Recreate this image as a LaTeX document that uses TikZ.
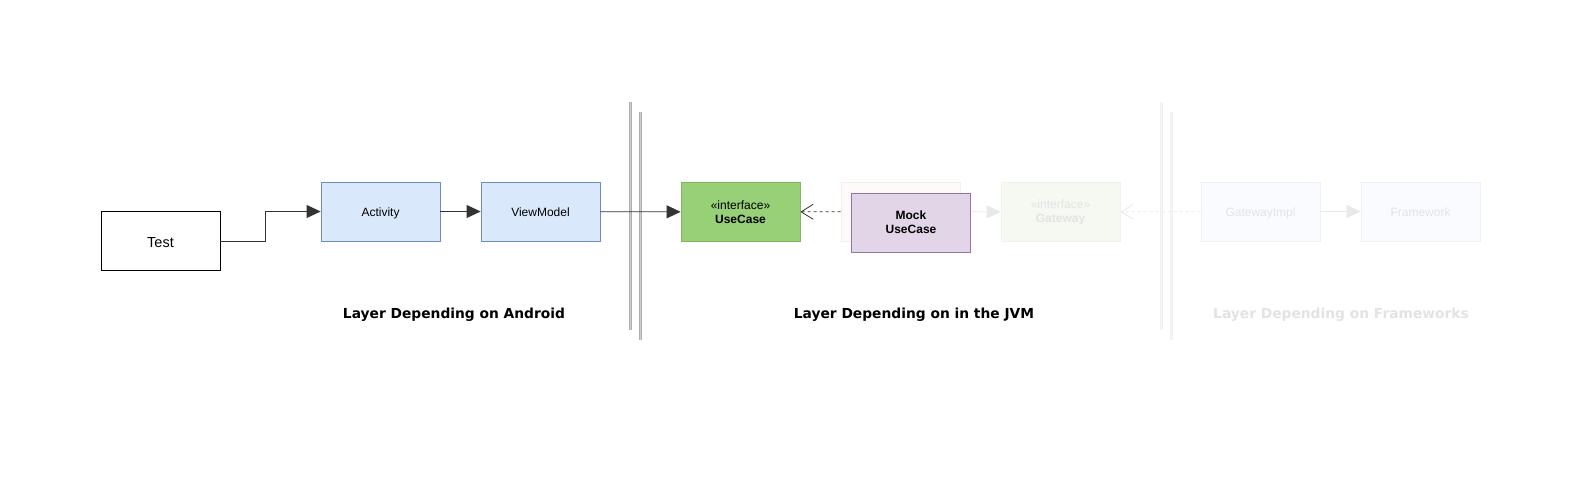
\documentclass[tikz,border=0pt]{standalone}
\usepackage{fontspec}
\setmainfont{Liberation Sans}
\newfontfamily\labelfont{DejaVu Sans}
\usetikzlibrary{arrows.meta}
\definecolor{bluefill}{HTML}{DAE8FC}
\definecolor{bluestroke}{HTML}{6C8EBF}
\definecolor{greenfill}{HTML}{97D077}
\definecolor{greenstroke}{HTML}{82B366}
\definecolor{mockfill}{HTML}{E1D5E7}
\definecolor{mockstroke}{HTML}{9673A6}
\definecolor{ghostfill}{HTML}{FEFAFA}
\definecolor{ghoststroke}{HTML}{F6ECEC}
\definecolor{fgreenfill}{HTML}{F5F9F2}
\definecolor{fgreenstroke}{HTML}{EEF4EA}
\definecolor{fbluefill}{HTML}{FAFBFE}
\definecolor{fbluestroke}{HTML}{EEF2F8}
\definecolor{fainttext}{HTML}{E3E3E3}
\definecolor{faintline}{HTML}{E8E8E8}
\definecolor{sepline}{HTML}{AFAFAF}
\definecolor{sepinner}{HTML}{CDCDCD}
\definecolor{fsepline}{HTML}{F0F0F0}
\definecolor{fsepinner}{HTML}{F7F7F7}
\definecolor{arrowc}{HTML}{333333}
\begin{document}
\begin{tikzpicture}[x=1pt,y=-1pt,
  box/.style={draw, line width=0.8pt, minimum width=119pt, minimum height=59pt, inner sep=0pt, align=center, font=\fontsize{12}{14}\selectfont},
  oneline/.style={text height=10.6pt, text depth=0pt},
  bluebox/.style={box, oneline, fill=bluefill, draw=bluestroke},
  greenbox/.style={box, fill=greenfill, draw=greenstroke},
  mockbox/.style={box, fill=mockfill, draw=mockstroke, font=\fontsize{12}{14}\selectfont\bfseries},
  ghostbox/.style={box, fill=ghostfill, draw=ghoststroke},
  fgreenbox/.style={box, fill=fgreenfill, draw=fgreenstroke, text=fainttext},
  fbluebox/.style={box, oneline, fill=fbluefill, draw=fbluestroke, text=fainttext},
  testbox/.style={box, font=\fontsize{14.5}{16}\selectfont, text height=12.4pt, text depth=0pt},
  layerlabel/.style={font=\labelfont\fontsize{13.8}{16}\selectfont\bfseries, inner sep=0pt},
  solidarrow/.style={line width=0.8pt, draw=arrowc, -{Triangle[length=14pt,width=13pt,fill=arrowc]}},
  openarrow/.style={line width=0.8pt, draw=arrowc, dash pattern=on 3pt off 3pt, -{Straight Barb[length=12pt,width=15pt]}},
  faintsolid/.style={line width=0.8pt, draw=faintline, -{Triangle[length=14pt,width=13pt,fill=faintline]}},
  faintopen/.style={line width=0.8pt, draw=faintline, dash pattern=on 3pt off 3pt, -{Straight Barb[length=12pt,width=15pt]}},
  sep/.style={line width=3pt, draw=sepline},
  sepin/.style={line width=1pt, draw=sepinner},
  fsep/.style={line width=3pt, draw=fsepline},
  fsepin/.style={line width=1pt, draw=fsepinner}]
\useasboundingbox (0,0) rectangle (1591,482);
\fill[white] (0,0) rectangle (1591,482);

% separators
\coordinate (s1a) at (630,101.5); \coordinate (s1b) at (630,330);
\coordinate (s2a) at (640,111.5); \coordinate (s2b) at (640,340);
\coordinate (s3a) at (1161,101.5); \coordinate (s3b) at (1161,330);
\coordinate (s4a) at (1171,111.5); \coordinate (s4b) at (1171,340);
\draw[sep] (s1a) -- (s1b); \draw[sepin] (s1a) -- (s1b);
\draw[sep] (s2a) -- (s2b); \draw[sepin] (s2a) -- (s2b);
\draw[fsep] (s3a) -- (s3b); \draw[fsepin] (s3a) -- (s3b);
\draw[fsep] (s4a) -- (s4b); \draw[fsepin] (s4a) -- (s4b);

% nodes
\node[testbox] (test) at (160.5,241) {Test};
\node[bluebox] (act) at (380.5,211.5) {Activity};
\node[bluebox] (vm) at (540.5,211.5) {ViewModel};
\node[greenbox] (uc) at (740.5,212) {«interface»\\\textbf{UseCase}};
\node[ghostbox] (impl) at (900.5,211.5) {};
\node[fgreenbox] (gw) at (1060.5,212) {«interface»\\\textbf{Gateway}};
\node[fbluebox] (gwi) at (1260.5,211.5) {GatewayImpl};
\node[fbluebox] (fw) at (1420.5,211.5) {Framework};

% connectors
\draw[solidarrow] (test.east) -- ++(45,0) |- (act.west);
\draw[solidarrow] (act) -- (vm);
\draw[solidarrow] (vm) -- (uc);
\draw[openarrow] (impl) -- (uc);
\draw[faintsolid] (impl) -- (gw);
\draw[faintopen] (gwi) -- (gw);
\draw[faintsolid] (gwi) -- (fw);

\node[mockbox] (mock) at (911,222.5) {Mock\\UseCase};

% layer labels
\node[layerlabel] (l1) at (454,314.5) {Layer Depending on Android};
\node[layerlabel] (l2) at (914,314.5) {Layer Depending on in the JVM};
\node[layerlabel, text=fainttext] (l3) at (1341,314.5) {Layer Depending on Frameworks};
\end{tikzpicture}
\end{document}
